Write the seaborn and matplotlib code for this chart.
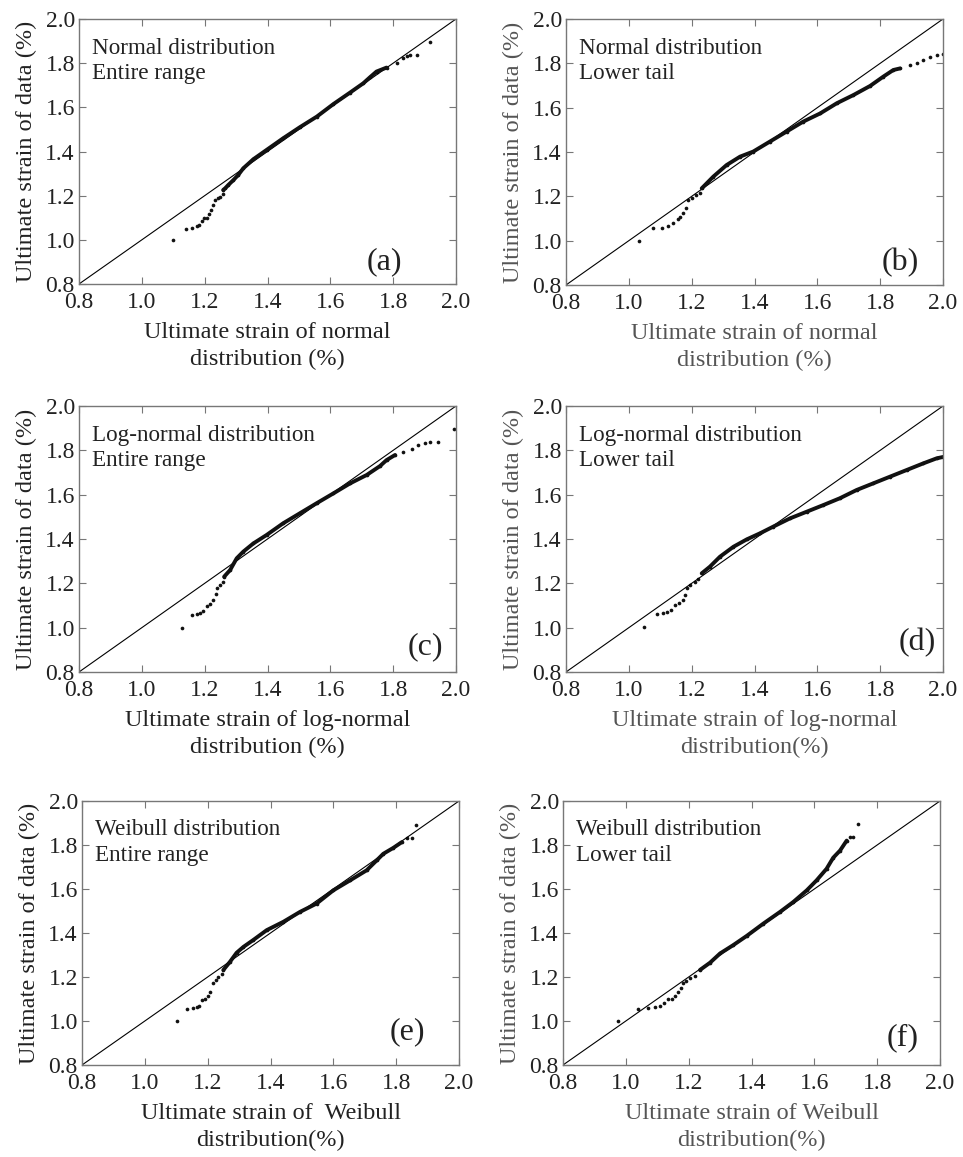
import matplotlib
matplotlib.use("Agg")
import matplotlib.pyplot as plt
import pandas as pd
import seaborn as sns

# Q-Q plots: ultimate strain of data vs fitted distribution quantiles (%)
a_x = [1.10, 1.14, 1.159, 1.175, 1.182, 1.19, 1.198, 1.206, 1.214, 1.22, 1.227, 1.233, 1.241,
       1.249, 1.257, 1.259, 1.265, 1.275, 1.291, 1.307, 1.323, 1.355, 1.397, 1.45, 1.503, 1.557,
       1.61, 1.662, 1.705, 1.726, 1.747, 1.779, 1.811, 1.832, 1.845, 1.854, 1.875, 1.917]
a_y = [1.00, 1.05, 1.055, 1.063, 1.066, 1.085, 1.098, 1.10, 1.117, 1.135, 1.158, 1.18, 1.188,
       1.196, 1.208, 1.226, 1.233, 1.248, 1.27, 1.294, 1.324, 1.365, 1.407, 1.46, 1.51, 1.558,
       1.615, 1.666, 1.709, 1.736, 1.762, 1.78, 1.802, 1.822, 1.834, 1.835, 1.835, 1.894]

b_x = [1.032, 1.078, 1.105, 1.126, 1.142, 1.155, 1.163, 1.173, 1.182, 1.189, 1.20, 1.214, 1.227,
       1.232, 1.269, 1.311, 1.354, 1.396, 1.449, 1.502, 1.555, 1.609, 1.662, 1.715, 1.768, 1.81,
       1.842, 1.863, 1.895, 1.916, 1.937, 1.959, 1.98, 2.0]
b_y = [1.00, 1.059, 1.059, 1.068, 1.081, 1.10, 1.105, 1.123, 1.146, 1.183, 1.194, 1.206, 1.217,
       1.236, 1.289, 1.341, 1.379, 1.402, 1.447, 1.492, 1.537, 1.574, 1.62, 1.657, 1.698, 1.74,
       1.77, 1.777, 1.792, 1.80, 1.815, 1.83, 1.838, 1.84]

c_x = [1.128, 1.161, 1.175, 1.185, 1.196, 1.206, 1.217, 1.228, 1.236, 1.24, 1.249, 1.257, 1.262,
       1.281, 1.302, 1.323, 1.355, 1.397, 1.45, 1.503, 1.556, 1.61, 1.663, 1.716, 1.758, 1.779,
       1.806, 1.832, 1.859, 1.88, 1.901, 1.917, 1.944, 1.994]
c_y = [1.00, 1.057, 1.06, 1.068, 1.077, 1.098, 1.107, 1.125, 1.15, 1.177, 1.192, 1.207, 1.23,
       1.26, 1.313, 1.343, 1.38, 1.418, 1.471, 1.516, 1.561, 1.606, 1.651, 1.689, 1.729, 1.756,
       1.779, 1.794, 1.805, 1.824, 1.835, 1.836, 1.836, 1.895]

d_x = [1.049, 1.091, 1.11, 1.123, 1.133, 1.147, 1.161, 1.171, 1.179, 1.184, 1.195, 1.211, 1.221,
       1.232, 1.258, 1.29, 1.333, 1.375, 1.418, 1.46, 1.513, 1.566, 1.619, 1.672, 1.725, 1.778,
       1.831, 1.884, 1.937, 1.98, 2.0]
d_y = [1.005, 1.062, 1.065, 1.072, 1.08, 1.102, 1.11, 1.125, 1.147, 1.177, 1.192, 1.207, 1.218,
       1.245, 1.275, 1.32, 1.365, 1.398, 1.426, 1.456, 1.493, 1.523, 1.553, 1.584, 1.621, 1.651,
       1.681, 1.711, 1.741, 1.764, 1.77]

e_x = [1.101, 1.135, 1.152, 1.165, 1.173, 1.181, 1.192, 1.202, 1.207, 1.218, 1.227, 1.234, 1.245,
       1.25, 1.271, 1.292, 1.314, 1.345, 1.388, 1.441, 1.494, 1.547, 1.60, 1.653, 1.706, 1.738,
       1.759, 1.791, 1.818, 1.834, 1.849, 1.863]
e_y = [0.998, 1.054, 1.058, 1.063, 1.066, 1.096, 1.102, 1.114, 1.134, 1.171, 1.186, 1.202, 1.214,
       1.232, 1.269, 1.31, 1.337, 1.368, 1.413, 1.451, 1.496, 1.534, 1.594, 1.639, 1.685, 1.73,
       1.76, 1.787, 1.813, 1.831, 1.831, 1.893]

f_x = [0.976, 1.04, 1.072, 1.093, 1.109, 1.121, 1.135, 1.146, 1.156, 1.167, 1.176, 1.183, 1.192,
       1.204, 1.22, 1.236, 1.268, 1.30, 1.342, 1.385, 1.438, 1.491, 1.533, 1.576, 1.607, 1.639,
       1.66, 1.682, 1.703, 1.714, 1.724, 1.738]
f_y = [0.998, 1.054, 1.058, 1.063, 1.066, 1.081, 1.099, 1.099, 1.114, 1.134, 1.149, 1.171, 1.183,
       1.194, 1.206, 1.232, 1.265, 1.307, 1.345, 1.387, 1.443, 1.496, 1.541, 1.594, 1.639, 1.692,
       1.742, 1.775, 1.82, 1.835, 1.835, 1.896]

dist_names = ["Normal distribution", "Normal distribution", "Log-normal distribution",
              "Log-normal distribution", "Weibull distribution", "Weibull distribution"]
ranges = ["Entire range", "Lower tail", "Entire range", "Lower tail", "Entire range", "Lower tail"]
panel_tags = ["(a)", "(b)", "(c)", "(d)", "(e)", "(f)"]
xlabels = ["Ultimate strain of normal\ndistribution (%)",
           "Ultimate strain of normal\ndistribution (%)",
           "Ultimate strain of log-normal\ndistribution (%)",
           "Ultimate strain of log-normal\ndistribution(%)",
           "Ultimate strain of  Weibull\ndistribution(%)",
           "Ultimate strain of Weibull\ndistribution(%)"]
ylabel = "Ultimate strain of data (%)"
ticks = [0.8, 1.0, 1.2, 1.4, 1.6, 1.8, 2.0]
ref_line = [0.8, 2.0]

panels = [(a_x, a_y), (b_x, b_y), (c_x, c_y), (d_x, d_y), (e_x, e_y), (f_x, f_y)]

sns.set_style("ticks")
plt.rcParams["font.family"] = ["Liberation Serif", "DejaVu Serif"]

W, H = 963, 1157
fig = plt.figure(figsize=(W / 100, H / 100), dpi=100)

# axes boxes in pixels: left, top, right, bottom
boxes = [(79, 19, 456, 284), (566, 19, 943, 285), (79, 406, 456, 672),
         (566, 406, 943, 672), (82, 801, 459, 1065), (563, 801, 940, 1065)]
body_top = [1.78, 1.78, 1.78, 1.78, 1.83, 1.83]
tag_pos = [(0.81, 0.085), (0.886, 0.085), (0.918, 0.095), (0.931, 0.11), (0.862, 0.125), (0.90, 0.105)]
label_col = ["#222222", "#555555", "#222222", "#555555", "#222222", "#555555"]

for i, (xs, ys) in enumerate(panels):
    l, t, r, b = boxes[i]
    ax = fig.add_axes([l / W, 1 - b / H, (r - l) / W, (b - t) / H])
    df = pd.DataFrame({"x": xs, "y": ys})

    sns.lineplot(x=ref_line, y=ref_line, ax=ax, color="black", lw=0.8)
    body = df[(df.y >= 1.22) & (df.y <= body_top[i])]
    sns.lineplot(data=body, x="x", y="y", ax=ax, sort=False, estimator=None,
                 color="#111111", lw=2.8)
    sns.scatterplot(data=df, x="x", y="y", ax=ax, color="#111111", s=7, linewidth=0)

    ax.set_xlim(0.8, 2.0)
    ax.set_ylim(0.8, 2.0)
    ax.set_xticks(ticks)
    ax.set_yticks(ticks)
    ax.set_xticklabels([f"{v:.1f}" for v in ticks])
    ax.set_yticklabels([f"{v:.1f}" for v in ticks])
    ax.tick_params(direction="in", top=True, right=True, length=5, width=0.8,
                   color="#777777", labelcolor="#222222", labelsize=17)
    ax.tick_params(axis="x", pad=6)
    ax.tick_params(axis="y", pad=3)
    for sp in ax.spines.values():
        sp.set_color("#777777")
        sp.set_linewidth(1.0)

    ax.set_xlabel(xlabels[i], fontsize=17.5, color=label_col[i], labelpad=6, linespacing=1.38)
    ax.set_ylabel(ylabel, fontsize=17.5, color=label_col[i], labelpad=6)

    ax.text(0.035, 0.93, dist_names[i] + "\n" + ranges[i], transform=ax.transAxes,
            fontsize=16.7, va="top", ha="left", color="#222222", linespacing=1.3)
    ax.text(tag_pos[i][0], tag_pos[i][1], panel_tags[i], transform=ax.transAxes,
            fontsize=23, va="center", ha="center", color="#222222")

fig.savefig("out.png", dpi=100)
